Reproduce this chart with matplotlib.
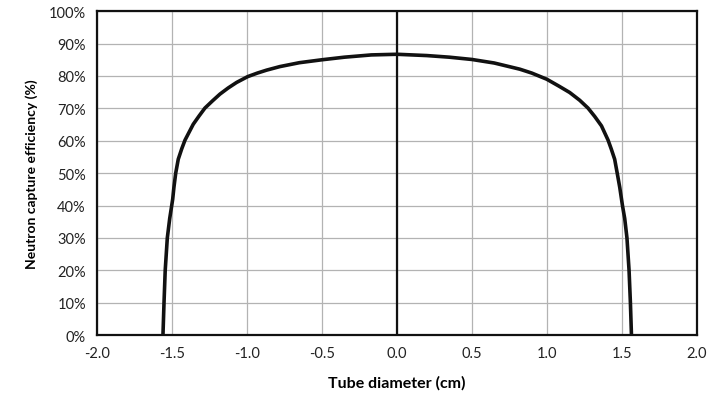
import matplotlib.pyplot as plt
from matplotlib.ticker import PercentFormatter

plt.rcParams['font.family'] = ['Lato', 'DejaVu Sans']

# capture efficiency across the tube, left half then right half (cm, %)
x_left = [-1.56, -1.553, -1.545, -1.531, -1.515, -1.495, -1.487, -1.475, -1.458, -1.435,
          -1.413, -1.385, -1.358, -1.32, -1.28, -1.23, -1.18, -1.125, -1.069, -0.995,
          -0.93, -0.869, -0.78, -0.65, -0.5, -0.35, -0.17, 0.0]
y_left = [0, 10, 20, 30, 36, 42, 45.6, 50, 54.3, 57.5,
          60.2, 62.7, 65.1, 67.6, 70.1, 72.3, 74.4, 76.3, 78.0, 79.8,
          80.9, 81.8, 82.9, 84.1, 85.0, 85.8, 86.5, 86.7]
x_right = [0.2, 0.35, 0.5, 0.65, 0.82, 0.9, 1.0, 1.08, 1.153, 1.22,
           1.275, 1.32, 1.365, 1.409, 1.43, 1.453, 1.47, 1.487,
           1.505, 1.52, 1.535, 1.549, 1.558, 1.565]
y_right = [86.3, 85.8, 85.1, 84.0, 82.1, 80.9, 79.0, 76.9, 74.9, 72.5,
           70.1, 67.5, 64.6, 60.2, 57.5, 54.3, 50, 45.6,
           40, 36, 30, 20, 10, 0]

x_ticks = [-2.0, -1.5, -1.0, -0.5, 0.0, 0.5, 1.0, 1.5, 2.0]
y_ticks = list(range(0, 101, 10))

xs = x_left + x_right
ys = y_left + y_right

fig = plt.figure(figsize=(7.08, 4.06), dpi=100)
ax = fig.add_axes([0.137, 0.172, 0.847, 0.798])

ax.plot(xs, ys, color='#111111', lw=2.6, solid_joinstyle='round', zorder=3)
ax.axvline(0, color='#111111', lw=1.6, zorder=2)

ax.set_xlim(-2, 2)
ax.set_ylim(0, 100)
ax.set_xticks(x_ticks)
ax.set_xticklabels([f'{t:.1f}' for t in x_ticks])
ax.set_yticks(y_ticks)
ax.yaxis.set_major_formatter(PercentFormatter(decimals=0))
ax.tick_params(length=0, labelsize=10.5, colors='#222222', pad=8)

ax.grid(True, color='#b3b3b3', lw=0.9)
ax.set_axisbelow(True)
for s in ax.spines.values():
    s.set_color('#111111')
    s.set_linewidth(1.6)

ax.set_xlabel('Tube diameter (cm)', fontsize=11.5, fontweight='bold', labelpad=11)
ax.set_ylabel('Neutron capture efficiency (%)', fontsize=10, fontweight='bold', labelpad=8)

fig.savefig('out.png', dpi=100)
